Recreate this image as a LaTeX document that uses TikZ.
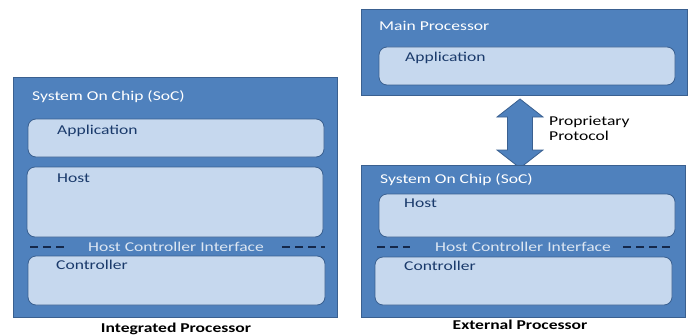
\documentclass[tikz,border=0pt]{standalone}
\usepackage{fontspec}
\setmainfont{Carlito}[FakeStretch=1.3]
\usetikzlibrary{positioning}
\definecolor{socblue}{HTML}{4F81BD}
\definecolor{socedge}{HTML}{3A6090}
\definecolor{layerfill}{HTML}{C6D8EE}
\definecolor{layertext}{HTML}{1A3A6B}
\definecolor{hcitext}{HTML}{DCE6F2}
\definecolor{dashcol}{HTML}{15284A}
\tikzset{
  chipbox/.style={draw=socedge, fill=socblue, line width=0.8pt, inner sep=0pt},
  layerbox/.style={draw=socedge, fill=layerfill, line width=0.8pt, rounded corners=8pt, inner sep=0pt},
  chiplabel/.style={anchor=base west, inner sep=0pt, text=white, font=\fontsize{13.5}{15}\selectfont},
  layerlabel/.style={anchor=base west, inner sep=0pt, text=layertext, font=\fontsize{13.5}{15}\selectfont},
  hcilabel/.style={inner sep=0pt, text=hcitext, font=\fontsize{13.5}{15}\selectfont},
  hcidash/.style={draw=dashcol, line width=1.5pt, dash pattern=on 8pt off 5pt},
  caption/.style={anchor=base, inner sep=0pt, font=\fontsize{13.5}{15}\selectfont\bfseries}
}
\begin{document}
\begin{tikzpicture}[x=1pt, y=-1pt]
		\useasboundingbox (0,0) rectangle (692,334);
		
		\node[chipbox, minimum width=324pt, minimum height=240pt] (soc1) at (175,197) {};
		\node[chiplabel] (soc1t) at (32,100) {System On Chip (SoC)};
		\node[layerbox, minimum width=296pt, minimum height=38pt] (app1) at (176,138) {};
		\node[layerlabel] (app1t) at (57,134) {Application};
		\node[layerbox, minimum width=296pt, minimum height=70pt] (host1) at (175,202) {};
		\node[layerlabel] (host1t) at (57,182) {Host};
		\node[hcilabel] (hci1) at (176,247) {Host Controller Interface};
		\coordinate (d1a) at (30,247);
		\coordinate (d1b) at (65,247);
		\coordinate (d1c) at (282,247);
		\coordinate (d1d) at (325,247);
		\draw[hcidash] (d1a) -- (d1b);
		\draw[hcidash] (d1c) -- (d1d);
		\node[layerbox, minimum width=297pt, minimum height=49pt] (ctrl1) at (176.5,280.5) {};
		\node[layerlabel] (ctrl1t) at (56,269) {Controller};
		\node[caption] (integ) at (176,332) {Integrated Processor};
		
		\node[chipbox, minimum width=326pt, minimum height=86pt] (mainp) at (524,52) {};
		\node[chiplabel] (mainpt) at (379,31) {Main Processor};
		\node[layerbox, minimum width=296pt, minimum height=38pt] (app2) at (527,66) {};
		\node[layerlabel] (app2t) at (405,62) {Application};
		
		\coordinate (pt) at (520,99);
		\coordinate (pb) at (520,168);
		\fill[socblue, draw=socedge, line width=0.8pt] (pt) -- ++(23,18) -- ++(-10.5,0) -- ++(0,33) -- ++(10.5,0)
		  -- (pb) -- ++(-23,-18) -- ++(10.5,0) -- ++(0,-33) -- ++(-10.5,0) -- cycle;
		\node[anchor=west, align=left, inner sep=0pt, font=\fontsize{13.5}{15}\selectfont] (proto) at (549,128) {Proprietary\\Protocol};
		
		\node[chipbox, minimum width=324pt, minimum height=152pt] (soc2) at (523,241) {};
		\node[chiplabel] (soc2t) at (380,183) {System On Chip (SoC)};
		\node[layerbox, minimum width=296pt, minimum height=43pt] (host2) at (527,215.5) {};
		\node[layerlabel] (host2t) at (404,207) {Host};
		\node[hcilabel] (hci2) at (523,247) {Host Controller Interface};
		\coordinate (d2a) at (377,247);
		\coordinate (d2b) at (410,247);
		\coordinate (d2c) at (623,247);
		\coordinate (d2d) at (672,247);
		\draw[hcidash] (d2a) -- (d2b);
		\draw[hcidash] (d2c) -- (d2d);
		\node[layerbox, minimum width=297pt, minimum height=48pt] (ctrl2) at (523.5,281) {};
		\node[layerlabel] (ctrl2t) at (404,270) {Controller};
		\node[caption] (extern) at (520,329) {External Processor};
		
\end{tikzpicture}
\end{document}
